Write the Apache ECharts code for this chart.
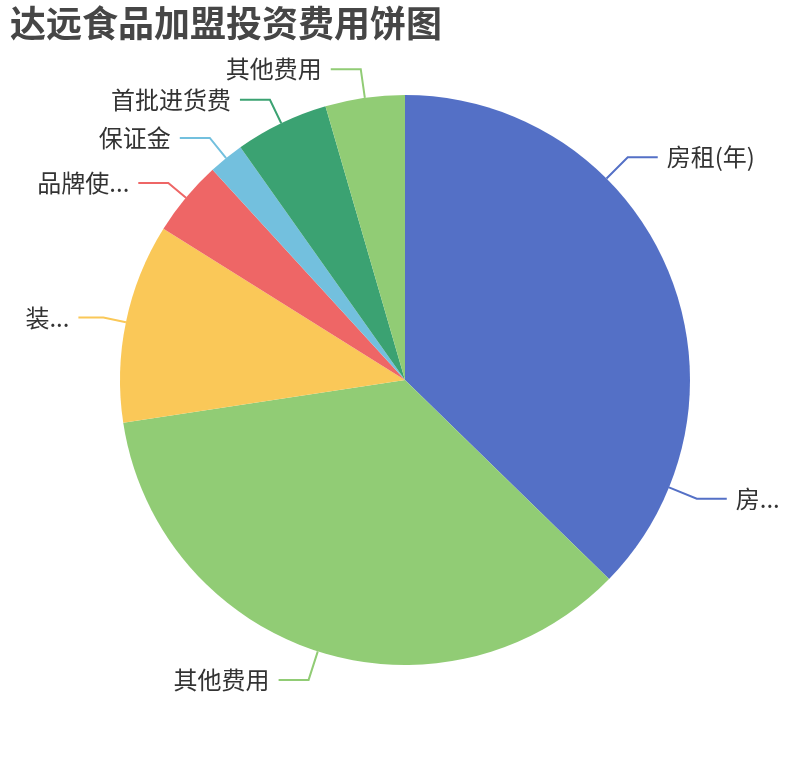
<!DOCTYPE html>
<html>
<head>
<meta charset="utf-8">
<script src="https://cdn.jsdelivr.net/npm/echarts@6/dist/echarts.min.js"></script>
<style>
  html, body { margin: 0; padding: 0; background: #fff; }
  #main { width: 810px; height: 760px; }
</style>
</head>
<body>
<div id="main"></div>
<script>
"use strict";

/* ---------- өгөгдөл ---------- */
const TITLE = "达远食品加盟投资费用饼图";
// Нэр давхардвал ECharts нэг өнгө өгнө (房租(年), 其他费用)
const NAMES  = ["房租(年)", "房租(年)", "其他费用", "装修费用", "品牌使用费", "保证金", "首批进货费", "其他费用"];
const VALUES = [25, 12.3, 35.3, 11.3, 4.3, 2.0, 5.3, 4.5];

// ECharts 5-ийн үндсэн өнгөний дараалал
const PALETTE = ["#5470c6", "#91cc75", "#fac858", "#ee6666", "#73c0de",
    "#3ba272", "#fc8452", "#9a60b4", "#ea7ccc"];

// Зүүн талын шошгоны шугамын эхний хэсэг арай богино (зургаас)
const LINE_LEN  = [30, 30, 30, 23, 23, 26, 26, 29];
const LINE_LEN2 = [30, 30, 30, 25, 30, 30, 30, 30];
// Шошгоны дээд өргөн (null — хязгааргүй), зурган дээрх таслалтыг давтана
const LABEL_W   = [null, null, null, null, 100, null, null, null];

const FONT = '"Noto Sans CJK SC", "Noto Sans", sans-serif';

function itemOf(n, i) {
    const item = {
        name: n, value: VALUES[i],
        labelLine: { length: LINE_LEN[i], length2: LINE_LEN2[i] }
    };
    if (LABEL_W[i]) item.label = { width: LABEL_W[i], overflow: "truncate" };
    return item;
}

const chart = echarts.init(document.getElementById("main"));
chart.setOption({
    color: PALETTE,
    textStyle: { fontFamily: FONT },
    title: {
        text: TITLE, left: 5, top: 0,
        textStyle: { fontSize: 36, fontWeight: "bold", color: "#464646", fontFamily: FONT }
    },
    series: [{
        type: "pie",
        radius: "75%",
        center: ["50%", "50%"],
        label: { fontSize: 24, color: "#333", distanceToLabelLine: 9 },
        labelLine: { length: 30, length2: 30, lineStyle: { width: 2 } },
        data: NAMES.map(itemOf)
    }]
});
</script>
</body>
</html>
